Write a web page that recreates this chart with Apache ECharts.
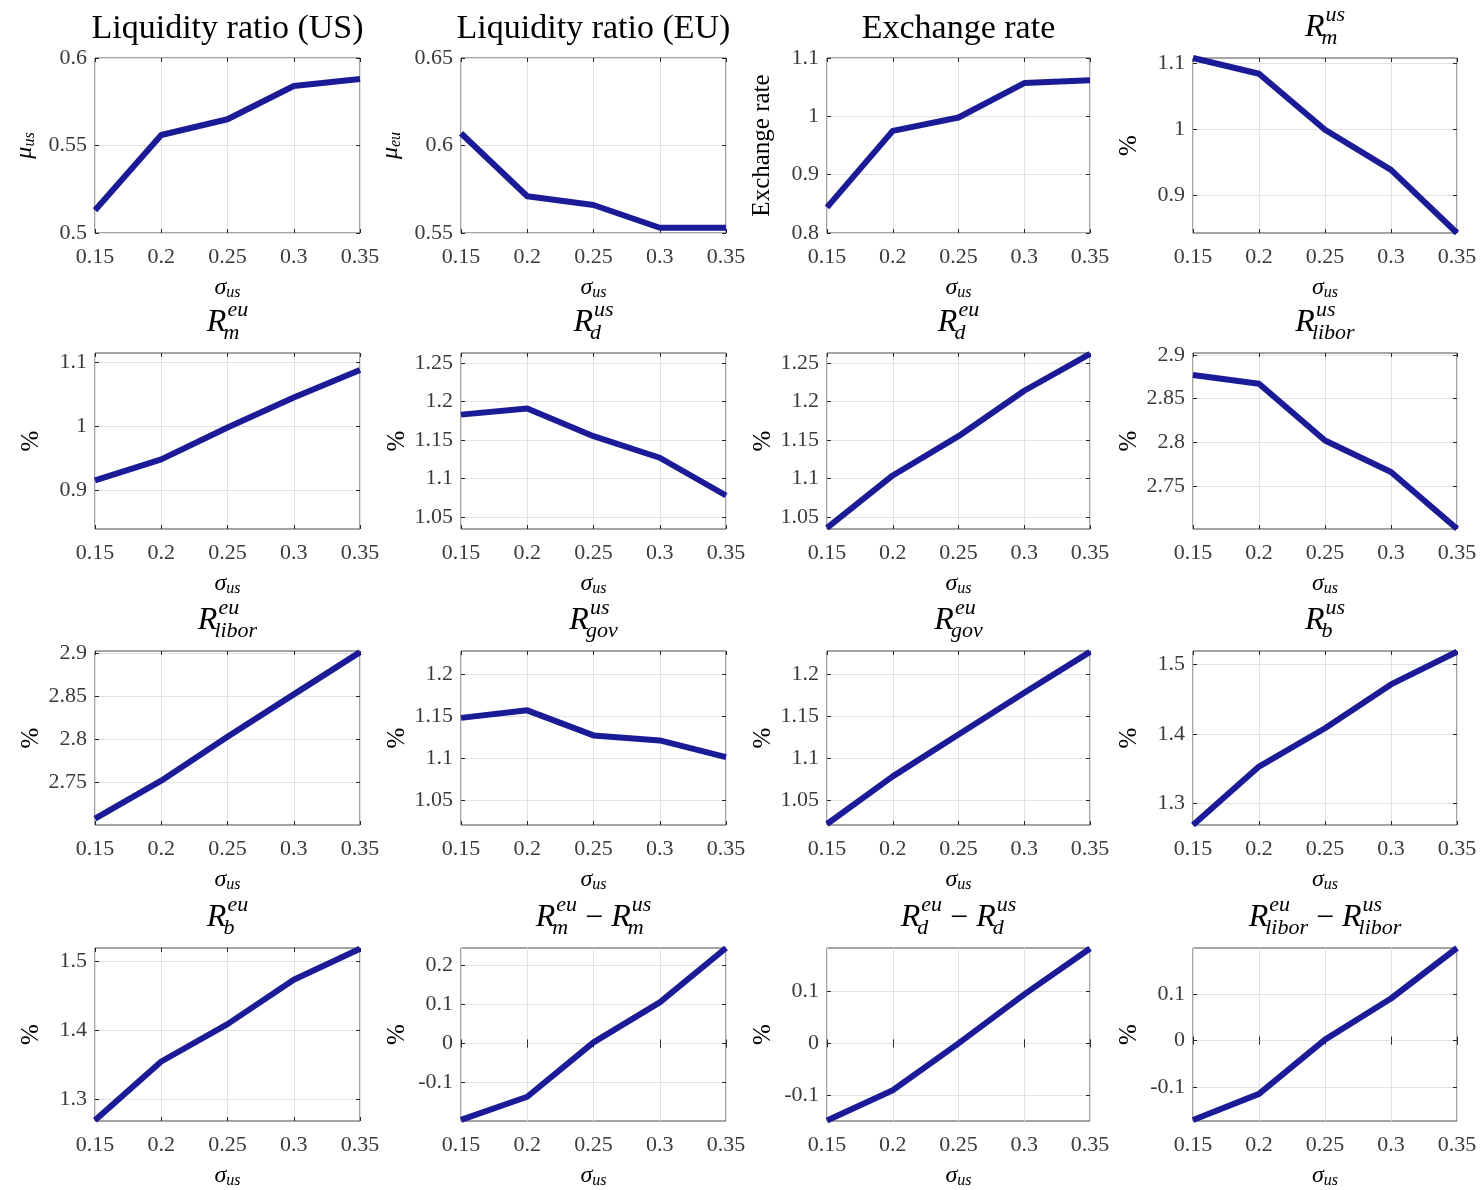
<!DOCTYPE html>
<html><head><meta charset="utf-8">
<script src="https://cdn.jsdelivr.net/npm/echarts@6/dist/echarts.min.js"></script>
<style>html,body{margin:0;padding:0;background:#fff}#c{width:1481px;height:1190px}</style>
</head><body><div id="c"></div>
<script>
// ---------- data ----------
const sigma = ['0.15', '0.2', '0.25', '0.3', '0.35'];

const liqUS    = [0.513, 0.556, 0.565, 0.584, 0.588];
const liqEU    = [0.607, 0.571, 0.566, 0.553, 0.553];
const exRate   = [0.844, 0.975, 0.998, 1.057, 1.062];
const rmUS     = [1.108, 1.084, 0.999, 0.938, 0.842];
const rmEU     = [0.915, 0.948, 0.998, 1.045, 1.088];
const rdUS     = [1.183, 1.191, 1.155, 1.127, 1.078];
const rdEU     = [1.036, 1.104, 1.155, 1.214, 1.262];
const rliborUS = [2.877, 2.867, 2.802, 2.766, 2.701];
const rliborEU = [2.708, 2.752, 2.803, 2.852, 2.901];
const rgovUS   = [1.148, 1.157, 1.127, 1.121, 1.101];
const rgovEU   = [1.021, 1.078, 1.128, 1.178, 1.227];
const rbUS     = [1.269, 1.353, 1.408, 1.471, 1.518];
const rbEU     = [1.270, 1.355, 1.409, 1.473, 1.518];
const dRm      = [-0.195, -0.136, 0.003, 0.105, 0.244];
const dRd      = [-0.148, -0.090, 0.000, 0.094, 0.182];
const dRlibor  = [-0.170, -0.114, 0.002, 0.090, 0.198];

// y ranges and tick values
const yRanges = [
  [0.5, 0.6], [0.55, 0.65], [0.8, 1.1], [0.842, 1.108],
  [0.839, 1.1146], [1.0345, 1.263], [1.0345, 1.263], [2.7006, 2.9023],
  [2.7006, 2.9023], [1.0198, 1.228], [1.0198, 1.228], [1.269, 1.519],
  [1.269, 1.519], [-0.198, 0.244], [-0.149, 0.183], [-0.172, 0.198]
];
const yTicks = [
  [0.5, 0.55, 0.6], [0.55, 0.6, 0.65], [0.8, 0.9, 1, 1.1], [0.9, 1, 1.1],
  [0.9, 1, 1.1], [1.05, 1.1, 1.15, 1.2, 1.25], [1.05, 1.1, 1.15, 1.2, 1.25], [2.75, 2.8, 2.85, 2.9],
  [2.75, 2.8, 2.85, 2.9], [1.05, 1.1, 1.15, 1.2], [1.05, 1.1, 1.15, 1.2], [1.3, 1.4, 1.5],
  [1.3, 1.4, 1.5], [-0.1, 0, 0.1, 0.2], [-0.1, 0, 0.1], [-0.1, 0, 0.1]
];
const seriesData = [liqUS, liqEU, exRate, rmUS, rmEU, rdUS, rdEU, rliborUS,
                    rliborEU, rgovUS, rgovEU, rbUS, rbEU, dRm, dRd, dRlibor];

// titles: string = plain text; arrays = math tokens [base, sup, sub] or operator string
const titles = [
  'Liquidity ratio (US)', 'Liquidity ratio (EU)', 'Exchange rate', [['R','us','m']],
  [['R','eu','m']], [['R','us','d']], [['R','eu','d']], [['R','us','libor']],
  [['R','eu','libor']], [['R','us','gov']], [['R','eu','gov']], [['R','us','b']],
  [['R','eu','b']], [['R','eu','m'], ' \u2212 ', ['R','us','m']],
  [['R','eu','d'], ' \u2212 ', ['R','us','d']], [['R','eu','libor'], ' \u2212 ', ['R','us','libor']]
];
const yNames = ['mu_us', 'mu_eu', 'Exchange rate', '%', '%', '%', '%', '%',
                '%', '%', '%', '%', '%', '%', '%', '%'];

// ---------- layout ----------
const colLeft = [95, 461, 827, 1193];
const colW = [265, 265, 263, 264];
const rowTop = [58, 353, 651, 948];
const rowH = [175, 176, 174, 174];

const FAM = '"Liberation Serif", "Times New Roman", serif';
const LINE = '#1b1b98';
const AX = '#262626';
const TICKCOL = '#3a3a3a';

const ctx = document.createElement('canvas').getContext('2d');
function tw(t, size, italic) {
  ctx.font = (italic ? 'italic ' : '') + size + 'px ' + FAM;
  return ctx.measureText(t).width;
}

function titleElems(spec, cx, cy) {
  if (typeof spec === 'string') {
    return [{ type: 'text', x: cx, y: cy + 1, silent: true,
      style: { text: spec, fontFamily: FAM, fontSize: 34, fill: '#000', align: 'center', verticalAlign: 'middle' } }];
  }
  const FB = 32, FS = 22;
  const items = [];
  let x = 0;
  spec.forEach(tk => {
    if (typeof tk === 'string') {
      items.push({ t: tk, x: x, size: FB, it: false, dy: 1 });
      x += tw(tk, FB, false);
    } else {
      const b = tk[0], sup = tk[1], sub = tk[2];
      const wb = tw(b, FB, true);
      items.push({ t: b, x: x, size: FB, it: true, dy: 0 });
      const xs = x + wb;
      items.push({ t: sup, x: xs + 1, size: FS, it: true, dy: -13 });
      items.push({ t: sub, x: xs - 3, size: FS, it: true, dy: 10 });
      x = xs + Math.max(tw(sup, FS, true) + 1, tw(sub, FS, true) - 3);
    }
  });
  const x0 = cx - x / 2;
  return items.map(it => ({
    type: 'text', x: x0 + it.x, y: cy + it.dy, silent: true,
    style: { text: it.t, fontFamily: FAM, fontSize: it.size, fontStyle: it.it ? 'italic' : 'normal',
      fill: '#000', align: 'left', verticalAlign: 'middle' }
  }));
}

const fmt = v => String(+(+v).toFixed(4));

const grids = [], xAxes = [], yAxes = [], series = [], graphics = [];
for (let i = 0; i < 16; i++) {
  const r = Math.floor(i / 4), c = i % 4;
  grids.push({ left: colLeft[c], top: rowTop[r], width: colW[c], height: rowH[r],
    show: true, borderColor: '#4a4a4a', borderWidth: 1, backgroundColor: 'transparent', containLabel: false });

  xAxes.push({
    type: 'category', data: sigma, boundaryGap: false, gridIndex: i, position: 'bottom',
    axisLine: { show: false },
    axisTick: { show: true, inside: true, length: 4, lineStyle: { color: AX } },
    axisLabel: { fontFamily: FAM, fontSize: 22, color: TICKCOL, margin: 13, interval: 0, showMinLabel: true, showMaxLabel: true },
    splitLine: { show: true, interval: 0, lineStyle: { color: '#e2e2e2', width: 1 } },
    name: '{m|\u03c3}{s|us}', nameLocation: 'middle', nameGap: 42,
    nameTextStyle: { rich: {
      m: { fontFamily: FAM, fontSize: 24, fontStyle: 'italic', color: '#000', lineHeight: 26 },
      s: { fontFamily: FAM, fontSize: 16, fontStyle: 'italic', color: '#000', verticalAlign: 'bottom', lineHeight: 20 }
    } }
  });
  xAxes.push({
    type: 'category', data: sigma, boundaryGap: false, gridIndex: i, position: 'top',
    axisLine: { show: false },
    axisTick: { show: true, inside: true, length: 4, interval: 0, lineStyle: { color: AX } },
    axisLabel: { show: false }, splitLine: { show: false }
  });

  const yn = yNames[i];
  let nameStr, nameStyle, gap;
  if (yn.startsWith('mu_')) {
    nameStr = '{m|\u03bc}{s|' + yn.slice(3) + '}';
    nameStyle = { rich: {
      m: { fontFamily: FAM, fontSize: 24, fontStyle: 'italic', color: '#000', lineHeight: 26 },
      s: { fontFamily: FAM, fontSize: 16, fontStyle: 'italic', color: '#000', verticalAlign: 'bottom', lineHeight: 20 }
    } };
    gap = 57;
  } else {
    nameStr = yn;
    nameStyle = { fontFamily: FAM, fontSize: 25, color: '#000' };
    gap = yn === '%' ? 51 : 52;
  }
  const rg = yRanges[i], tk = yTicks[i];
  yAxes.push({
    type: 'value', gridIndex: i, min: rg[0], max: rg[1], position: 'left',
    axisLine: { show: false },
    axisTick: { show: true, inside: true, length: 4, customValues: tk, lineStyle: { color: AX } },
    axisLabel: { customValues: tk, formatter: fmt, fontFamily: FAM, fontSize: 22, color: TICKCOL, margin: 8 },
    splitLine: { show: true, lineStyle: { color: '#e2e2e2', width: 1 } },
    name: nameStr, nameLocation: 'middle', nameRotate: 90, nameGap: gap, nameTextStyle: nameStyle
  });
  yAxes.push({
    type: 'value', gridIndex: i, min: rg[0], max: rg[1], position: 'right',
    axisLine: { show: false },
    axisTick: { show: true, inside: true, length: 4, customValues: tk, lineStyle: { color: AX } },
    axisLabel: { show: false, customValues: tk }, splitLine: { show: false }
  });

  series.push({
    type: 'line', xAxisIndex: 2 * i, yAxisIndex: 2 * i, data: seriesData[i],
    showSymbol: false, symbol: 'none', clip: false, silent: true,
    lineStyle: { color: LINE, width: 6, join: 'round' }
  });

  const cx = colLeft[c] + colW[c] / 2;
  const cy = rowTop[r] - 30;
  titleElems(titles[i], cx, cy).forEach(e => graphics.push(e));
}

const chart = echarts.init(document.getElementById('c'), null, { renderer: 'canvas' });
chart.setOption({
  animation: false,
  backgroundColor: '#fff',
  grid: grids, xAxis: xAxes, yAxis: yAxes, series: series,
  graphic: { elements: graphics }
});
</script></body></html>
